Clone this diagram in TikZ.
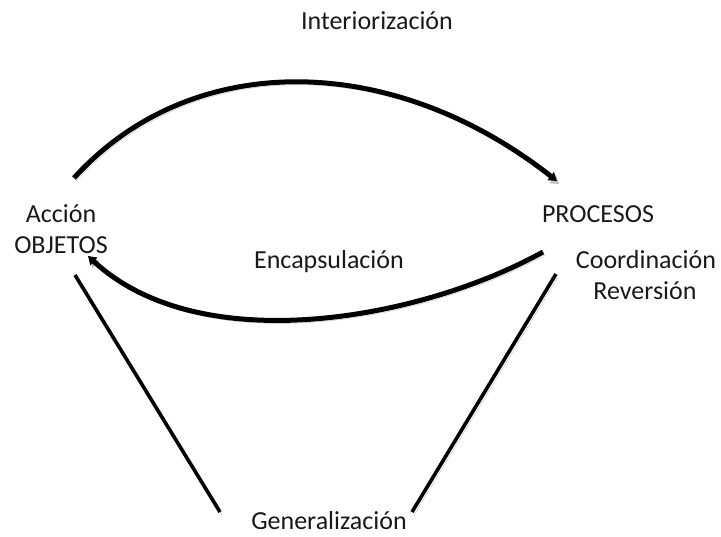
\documentclass[tikz,border=0pt]{standalone}
\usepackage{fontspec}
\setmainfont{Carlito}
\usetikzlibrary{arrows.meta}
\tikzset{
  lbl/.style={font=\fontsize{26}{31}\selectfont, inner sep=0pt, text=black!90},
  shad/.style={preaction={draw=black!25, transform canvas={xshift=2pt,yshift=-3pt}}},
  arc/.style={line width=5pt, shad, -{Triangle[length=8pt,width=10pt]}},
  side/.style={line width=3.6pt, shad},
}
\begin{document}
\begin{tikzpicture}[x=1pt,y=-1pt]
\useasboundingbox (0,0) rectangle (721,537);
\node[lbl] (inter) at (377,21) {Interiorización};
\node[lbl] (accion) at (61,214) {Acción};
\node[lbl] (objetos) at (61,245) {OBJETOS};
\node[lbl] (procesos) at (598,214) {PROCESOS};
\node[lbl] (encap) at (329,262) {Encapsulación};
\node[lbl] (coord) at (646,260) {Coordinación};
\node[lbl] (revers) at (645,291) {Reversión};
\node[lbl] (gener) at (329,521) {Generalización};
\coordinate (a1) at (74,178);
\coordinate (a2) at (557,181);
\coordinate (b1) at (543,252);
\coordinate (b2) at (88,256);
\coordinate (l1) at (75,275);
\coordinate (l2) at (220,512);
\coordinate (r1) at (556,274);
\coordinate (r2) at (412,512);
\draw[arc] (a1) .. controls (190,50) and (390,50) .. (a2);
\draw[arc] (b1) .. controls (420,320) and (200,360) .. (b2);
\draw[side] (l1) -- (l2);
\draw[side] (r1) -- (r2);
\end{tikzpicture}
\end{document}
